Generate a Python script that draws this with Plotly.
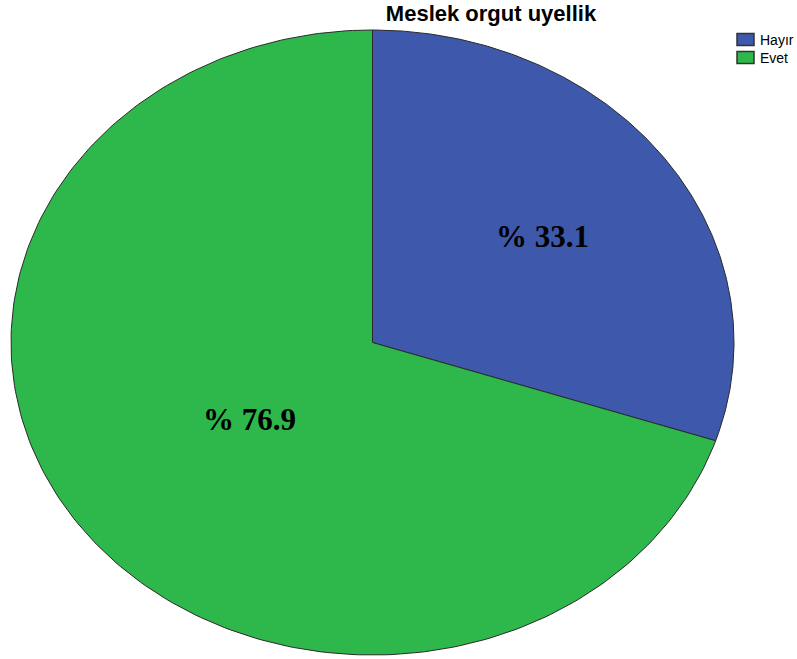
import numpy as np
import plotly.graph_objects as go

# Membership in a professional organisation
categories = ["Hayır", "Evet"]
values = [33.1, 76.9]
label_texts = ["% 33.1", "% 76.9"]
colors = ["#3E58AC", "#2EB84B"]

# Pie geometry (screen pixels, y grows downward)
W, H = 797, 659
cx, cy = 372.5, 342.5
rx, ry = 361.5, 312.5
label_r = [0.58, 0.42]

fractions = np.array(values) / np.sum(values)
bounds = np.concatenate([[0.0], np.cumsum(fractions)]) * 2 * np.pi

fig = go.Figure()
for i, name in enumerate(categories):
    t = np.linspace(bounds[i], bounds[i + 1], 240)
    xs = np.concatenate([[cx], cx + rx * np.sin(t), [cx]])
    ys = np.concatenate([[cy], cy - ry * np.cos(t), [cy]])
    fig.add_trace(go.Scatter(
        x=xs, y=ys, mode="lines", fill="toself", fillcolor=colors[i],
        line=dict(color="#2a2a2a", width=1), name=name,
        hoverinfo="name", showlegend=False,
    ))
    mid = (bounds[i] + bounds[i + 1]) / 2
    fig.add_annotation(
        x=cx + label_r[i] * rx * np.sin(mid),
        y=cy - label_r[i] * ry * np.cos(mid),
        text=f"<b>{label_texts[i]}</b>", showarrow=False,
        font=dict(family="Liberation Serif, Times New Roman, serif", size=31, color="black"),
    )

# Legend: swatch boxes with category names
leg_x0, leg_y0, box_w, box_h, step = 737, 33.5, 17, 12, 18
for i, name in enumerate(categories):
    y0 = leg_y0 + i * step
    fig.add_shape(type="rect", xref="x", yref="y",
                  x0=leg_x0, x1=leg_x0 + box_w, y0=y0, y1=y0 + box_h,
                  fillcolor=colors[i], line=dict(color="#333333", width=1.5))
    fig.add_annotation(x=leg_x0 + box_w + 4, y=y0 + box_h / 2, xref="x", yref="y",
                       text=name, showarrow=False, xanchor="left", yanchor="middle",
                       font=dict(family="Liberation Sans, Arial, sans-serif", size=14, color="black"))

fig.update_layout(
    width=W, height=H,
    margin=dict(l=0, r=0, t=0, b=0),
    paper_bgcolor="white", plot_bgcolor="white",
    xaxis=dict(range=[0, W], visible=False, fixedrange=True),
    yaxis=dict(range=[H, 0], visible=False, fixedrange=True),
    title=dict(text="<b>Meslek orgut uyellik</b>", x=491 / W, xanchor="center",
               y=1 - 13 / H, yanchor="middle",
               font=dict(family="Liberation Sans, Arial, sans-serif", size=22, color="black")),
    showlegend=False,
)

fig.write_html("out.html")
